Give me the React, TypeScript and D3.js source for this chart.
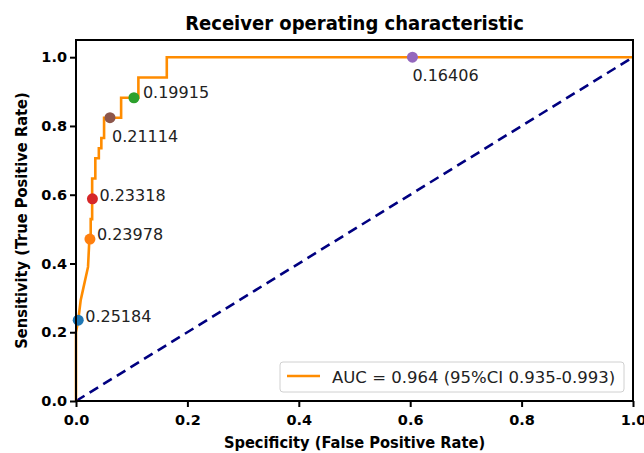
import React, { useEffect, useRef } from 'react';
import * as d3 from 'd3';

// ROC curve points (false positive rate, true positive rate)
const fpr = [0, 0, 0.004, 0.0085, 0.0126, 0.0216, 0.024, 0.0264, 0.0264, 0.029, 0.029, 0.0347, 0.0347, 0.041, 0.041, 0.0455, 0.0455, 0.0504, 0.0504, 0.081, 0.081, 0.112, 0.112, 0.163, 0.163, 1];
const tpr = [0, 0.2, 0.235, 0.294, 0.324, 0.39, 0.471, 0.471, 0.529, 0.529, 0.647, 0.647, 0.706, 0.706, 0.735, 0.735, 0.765, 0.765, 0.824, 0.824, 0.882, 0.882, 0.941, 0.941, 1, 1];

// threshold markers
const markFpr = [0.004, 0.025, 0.0295, 0.061, 0.104, 0.604];
const markTpr = [0.235, 0.471, 0.588, 0.824, 0.882, 1.0];
const markLabels = ['0.25184', '0.23978', '0.23318', '0.21114', '0.19915', '0.16406'];
const markColors = ['#1f77b4', '#ff7f0e', '#d62728', '#8c564b', '#2ca02c', '#9467bd'];
const labelDx = [7, 7, 7, 2, 9, 0];
const labelDy = [-4, -5, -3, 19, -5, 18];

const ticks = [0, 0.2, 0.4, 0.6, 0.8, 1.0];
const legendText = 'AUC = 0.964 (95%CI 0.935-0.993)';

const App = () => {
  const ref = useRef<SVGSVGElement>(null);

  useEffect(() => {
    const width = 644;
    const height = 453;
    const m = { top: 40, right: 11, bottom: 52, left: 76 };
    const svg = d3.select(ref.current);
    svg.selectAll('*').remove();

    const x = d3.scaleLinear().domain([0, 1]).range([m.left, width - m.right]);
    const y = d3.scaleLinear().domain([0, 1.05]).range([height - m.bottom, m.top]);
    const font = 'DejaVu Sans, sans-serif';
    const condensed = 'DejaVu Sans Condensed, DejaVu Sans, sans-serif';

    // diagonal
    svg.append('line')
      .attr('x1', x(0)).attr('y1', y(0))
      .attr('x2', x(1)).attr('y2', y(1))
      .attr('stroke', 'navy')
      .attr('stroke-width', 2.6)
      .attr('stroke-dasharray', '10,6');

    const line = d3.line<number>()
      .x((d, i) => x(fpr[i]))
      .y((d, i) => y(tpr[i]));

    svg.append('path')
      .datum(tpr)
      .attr('d', line)
      .attr('fill', 'none')
      .attr('stroke', 'darkorange')
      .attr('stroke-width', 2.6)
      .attr('stroke-linejoin', 'miter');

    svg.selectAll('.mark')
      .data(markLabels)
      .enter().append('circle')
      .attr('cx', (d, i) => x(markFpr[i]))
      .attr('cy', (d, i) => y(markTpr[i]))
      .attr('r', 5.5)
      .attr('fill', (d, i) => markColors[i]);

    svg.selectAll('.lab')
      .data(markLabels)
      .enter().append('text')
      .attr('x', (d, i) => x(markFpr[i]) + labelDx[i])
      .attr('y', (d, i) => y(markTpr[i]) + labelDy[i])
      .attr('dy', '0.35em')
      .attr('font-family', font)
      .attr('font-size', 16)
      .attr('fill', '#222')
      .text(d => d);

    // frame
    svg.append('rect')
      .attr('x', x(0)).attr('y', m.top)
      .attr('width', x(1) - x(0))
      .attr('height', y(0) - m.top)
      .attr('fill', 'none')
      .attr('stroke', '#000')
      .attr('stroke-width', 2);

    const xAxis = svg.append('g')
      .attr('transform', `translate(0,${y(0)})`)
      .call(d3.axisBottom(x).tickValues(ticks).tickFormat(d3.format('.1f')).tickSize(6).tickSizeOuter(0));
    const yAxis = svg.append('g')
      .attr('transform', `translate(${x(0)},0)`)
      .call(d3.axisLeft(y).tickValues(ticks).tickFormat(d3.format('.1f')).tickSize(6).tickSizeOuter(0));

    [xAxis, yAxis].forEach(g => {
      g.select('.domain').remove();
      g.selectAll('line').attr('stroke', '#000').attr('stroke-width', 2);
      g.selectAll('text')
        .attr('font-family', font)
        .attr('font-weight', 'bold')
        .attr('font-size', 14.5)
        .attr('fill', '#000');
    });
    xAxis.selectAll('text').attr('dy', '1.05em');

    // legend
    const lx = 280, ly = 362;
    svg.append('rect')
      .attr('x', lx).attr('y', ly)
      .attr('width', 344).attr('height', 30)
      .attr('rx', 3)
      .attr('fill', '#fff')
      .attr('fill-opacity', 0.8)
      .attr('stroke', '#d0d0d0');
    svg.append('line')
      .attr('x1', lx + 7).attr('x2', lx + 40)
      .attr('y1', ly + 14).attr('y2', ly + 14)
      .attr('stroke', 'darkorange')
      .attr('stroke-width', 2.6);
    svg.append('text')
      .attr('x', lx + 52).attr('y', ly + 15)
      .attr('dy', '0.35em')
      .attr('font-family', font)
      .attr('font-size', 16.5)
      .attr('fill', '#222')
      .text(legendText);

    svg.append('text')
      .attr('x', (x(0) + x(1)) / 2).attr('y', 30)
      .attr('text-anchor', 'middle')
      .attr('font-family', condensed)
      .attr('font-weight', 'bold')
      .attr('font-size', 20)
      .text('Receiver operating characteristic');

    svg.append('text')
      .attr('x', (x(0) + x(1)) / 2).attr('y', 448)
      .attr('text-anchor', 'middle')
      .attr('font-family', condensed)
      .attr('font-weight', 'bold')
      .attr('font-size', 16.3)
      .text('Specificity (False Positive Rate)');

    svg.append('text')
      .attr('transform', `translate(27,${(m.top + y(0)) / 2}) rotate(-90)`)
      .attr('text-anchor', 'middle')
      .attr('font-family', condensed)
      .attr('font-weight', 'bold')
      .attr('font-size', 16.3)
      .text('Sensitivity (True Positive Rate)');
  }, []);

  return (
    <svg ref={ref} width={644} height={453}
      style={{ position: 'absolute', left: 0, top: 0, background: '#fff' }} />
  );
};

export default App;
